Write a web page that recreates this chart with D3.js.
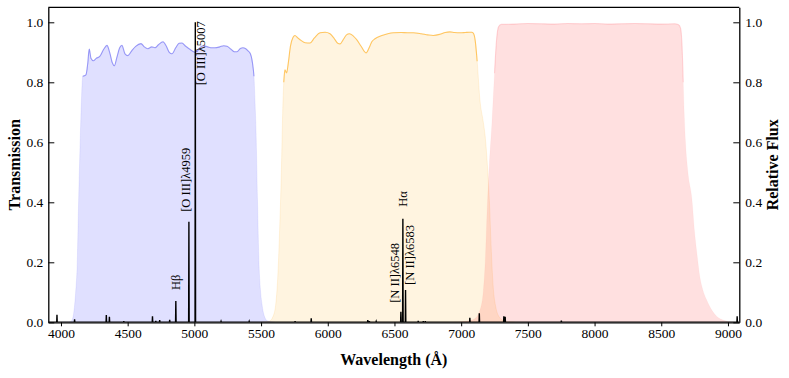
<!DOCTYPE html>
<html>
<head>
<meta charset="utf-8">
<script src="https://cdn.jsdelivr.net/npm/d3@7"></script>
<style>
  body { margin: 0; background: #fff; }
  text { font-family: "Liberation Serif", "DejaVu Serif", serif; }
</style>
</head>
<body>
<script>
  // filter transmission curves (wavelength in A, transmission)
  var blueWave = [4000, 4060, 4080, 4095, 4110, 4122, 4132, 4145, 4155, 4163, 4187, 4200, 4212, 4225, 4242, 4265, 4292, 4320, 4345, 4365, 4385, 4400, 4420, 4440, 4457, 4480, 4502, 4530, 4560, 4600, 4625, 4652, 4680, 4705, 4730, 4765, 4790, 4812, 4832, 4860, 4885, 4907, 4935, 4960, 4990, 5012, 5040, 5065, 5100, 5130, 5155, 5190, 5220, 5245, 5275, 5300, 5320, 5345, 5364, 5385, 5402, 5420, 5432, 5440, 5447, 5455, 5462, 5473, 5484, 5495, 5507, 5525, 5550, 5600];
  var blueTrans = [0, 0.001, 0.005, 0.03, 0.1, 0.2, 0.4, 0.62, 0.76, 0.82, 0.825, 0.86, 0.911, 0.88, 0.872, 0.88, 0.887, 0.91, 0.923, 0.9, 0.865, 0.855, 0.885, 0.915, 0.923, 0.895, 0.889, 0.905, 0.92, 0.929, 0.918, 0.912, 0.918, 0.915, 0.925, 0.935, 0.92, 0.9, 0.895, 0.915, 0.93, 0.931, 0.92, 0.912, 0.903, 0.9, 0.915, 0.922, 0.918, 0.915, 0.915, 0.918, 0.922, 0.92, 0.91, 0.902, 0.902, 0.913, 0.915, 0.912, 0.905, 0.895, 0.875, 0.85, 0.82, 0.73, 0.64, 0.41, 0.2, 0.11, 0.06, 0.02, 0.004, 0];

  var orangeWave = [5500, 5560, 5590, 5610, 5625, 5640, 5652, 5662, 5670, 5679, 5691, 5704, 5720, 5740, 5754, 5775, 5792, 5830, 5867, 5900, 5942, 5980, 6017, 6050, 6075, 6092, 6120, 6140, 6162, 6190, 6217, 6250, 6287, 6310, 6330, 6354, 6400, 6450, 6491, 6550, 6600, 6641, 6700, 6750, 6791, 6840, 6880, 6916, 6950, 6991, 7030, 7060, 7079, 7091, 7105, 7120, 7141, 7165, 7180, 7200, 7212, 7225, 7240, 7260, 7290, 7330, 7400];
  var orangeTrans = [0, 0.003, 0.02, 0.06, 0.15, 0.32, 0.5, 0.7, 0.8, 0.842, 0.831, 0.864, 0.92, 0.95, 0.956, 0.948, 0.942, 0.932, 0.931, 0.948, 0.965, 0.967, 0.962, 0.945, 0.93, 0.928, 0.945, 0.958, 0.962, 0.955, 0.942, 0.92, 0.898, 0.915, 0.935, 0.945, 0.955, 0.962, 0.965, 0.966, 0.965, 0.965, 0.962, 0.958, 0.956, 0.96, 0.966, 0.968, 0.966, 0.965, 0.966, 0.967, 0.967, 0.964, 0.94, 0.87, 0.74, 0.67, 0.62, 0.5, 0.4, 0.25, 0.12, 0.05, 0.015, 0.003, 0];

  var redWave = [6950, 7040, 7100, 7140, 7165, 7180, 7195, 7210, 7230, 7250, 7265, 7280, 7300, 7400, 7500, 7600, 7700, 7800, 7900, 8000, 8100, 8200, 8300, 8400, 8500, 8600, 8630, 8645, 8655, 8665, 8672, 8682, 8700, 8730, 8750, 8770, 8790, 8812, 8840, 8880, 8915, 8950, 9000, 9050];
  var redTrans = [0, 0.004, 0.012, 0.04, 0.1, 0.2, 0.38, 0.52, 0.66, 0.83, 0.94, 0.985, 0.993, 0.994, 0.996, 0.995, 0.994, 0.996, 0.995, 0.996, 0.994, 0.995, 0.996, 0.995, 0.994, 0.995, 0.992, 0.98, 0.93, 0.8, 0.7, 0.6, 0.5, 0.41, 0.3, 0.22, 0.15, 0.108, 0.075, 0.04, 0.02, 0.01, 0.003, 0];

  // emission lines (wavelength in A, relative flux)
  var lineWave = [3970, 4102, 4340, 4363, 4471, 4686, 4711, 4740, 4815, 4861, 4959, 5007, 5200, 5411, 5755, 5876, 6300, 6312, 6363, 6548, 6563, 6583, 6678, 6716, 6731, 7065, 7136, 7320, 7330, 7751, 9069];
  var lineFlux = [0.025, 0.01, 0.024, 0.018, 0.004, 0.02, 0.005, 0.007, 0.008, 0.071, 0.335, 1.0, 0.003, 0.003, 0.004, 0.013, 0.007, 0.004, 0.003, 0.035, 0.345, 0.108, 0.005, 0.004, 0.004, 0.015, 0.03, 0.02, 0.018, 0.006, 0.02];

  var labelText = ['H\u03b2', '[O III]\u03bb4959', '[O III]\u03bb5007', '[N II]\u03bb6548', 'H\u03b1', '[N II]\u03bb6583'];
  var labelWave = [4861, 4959, 5007, 6548, 6563, 6583];
  var labelFlux = [0.071, 0.335, 0.79, 0.035, 0.345, 0.108];

  var yTicks = [0, 0.2, 0.4, 0.6, 0.8, 1.0];
  var xTicks = [4000, 4500, 5000, 5500, 6000, 6500, 7000, 7500, 8000, 8500, 9000];

  // label placement (px offsets from line top)
  var labelDx = [0, -3, 6, -6, 0, 4];
  var labelGap = [11, 10, 0, 9, 12, 5];

  var W = 789, H = 378;
  var margin = { top: 7.3, right: 49.7, bottom: 55.7, left: 48.3 };
  var iw = W - margin.left - margin.right;
  var ih = H - margin.top - margin.bottom;

  var svg = d3.select('body').append('svg')
    .attr('width', W)
    .attr('height', H);

  var g = svg.append('g')
    .attr('transform', 'translate(' + margin.left + ',' + margin.top + ')');

  var xScale = d3.scaleLinear().domain([3905, 9085]).range([0, iw]);
  var yScale = d3.scaleLinear().domain([0, 1.05]).range([ih, 0]);

  svg.append('defs').append('clipPath').attr('id', 'clip')
    .append('rect').attr('width', iw).attr('height', ih);

  var filters = [
    { wave: blueWave, trans: blueTrans, fill: 'rgba(0,0,255,0.12)', stroke: 'rgba(80,80,240,0.5)' },
    { wave: orangeWave, trans: orangeTrans, fill: 'rgba(255,165,0,0.12)', stroke: 'rgba(255,170,20,0.6)' },
    { wave: redWave, trans: redTrans, fill: 'rgba(255,0,0,0.12)', stroke: 'rgba(255,120,130,0.25)' }
  ];

  var area = d3.area()
    .x(d => xScale(d[0]))
    .y0(yScale(0))
    .y1(d => yScale(d[1]))
    .curve(d3.curveMonotoneX);

  var line = d3.line()
    .x(d => xScale(d[0]))
    .y(d => yScale(d[1]))
    .curve(d3.curveMonotoneX);

  var plot = g.append('g').attr('clip-path', 'url(#clip)');

  filters.forEach(function(f) {
    var pts = f.wave.map((w, i) => [w, f.trans[i]]);
    plot.append('path')
      .attr('d', area(pts))
      .attr('fill', f.fill)
      .attr('stroke', f.stroke)
      .attr('stroke-opacity', 0.25)
      .attr('stroke-width', 0.8);
    var top = pts.filter(p => p[1] >= 0.8);
    plot.append('path')
      .attr('d', line(top))
      .attr('fill', 'none')
      .attr('stroke', f.stroke)
      .attr('stroke-width', 1.1);
  });

  // spectrum: narrow spikes on a zero continuum
  var spec = [[3905, 0]];
  lineWave.forEach(function(w, i) {
    spec.push([w - 2, 0], [w, lineFlux[i]], [w + 2, 0]);
  });
  spec.push([9085, 0]);
  plot.append('path')
    .attr('d', d3.line().x(d => xScale(d[0])).y(d => yScale(d[1]))(spec))
    .attr('fill', 'none')
    .attr('stroke', '#000')
    .attr('stroke-width', 1.4);

  // line labels
  labelText.forEach(function(t, i) {
    var x = xScale(labelWave[i]) + labelDx[i];
    var y = yScale(labelFlux[i]) - labelGap[i];
    g.append('text')
      .attr('transform', 'translate(' + x + ',' + y + ') rotate(-90)')
      .attr('dominant-baseline', 'central')
      .attr('font-size', '12.5px')
      .attr('fill', '#000')
      .text(t);
  });

  // axes
  var fmt = d3.format('.1f');
  var left = g.append('g')
    .call(d3.axisLeft(yScale).tickValues(yTicks).tickFormat(fmt).tickSizeInner(-6).tickSizeOuter(0).tickPadding(5));
  var right = g.append('g')
    .attr('transform', 'translate(' + iw + ',0)')
    .call(d3.axisRight(yScale).tickValues(yTicks).tickFormat(fmt).tickSizeInner(-6).tickSizeOuter(0).tickPadding(6));
  var bottom = g.append('g')
    .attr('transform', 'translate(0,' + ih + ')')
    .call(d3.axisBottom(xScale).tickValues(xTicks).tickFormat(d3.format('d')).tickSizeInner(4).tickSizeOuter(0).tickPadding(2));

  [left, right, bottom].forEach(function(a) {
    a.selectAll('text').attr('font-size', '13.5px').attr('fill', '#000')
      .style('font-family', '"Liberation Serif", serif');
    a.selectAll('line').attr('stroke', '#000').attr('stroke-width', 1);
    a.select('.domain').attr('stroke', '#000').attr('stroke-width', 1.3);
  });

  g.append('line')
    .attr('x1', 0).attr('x2', iw).attr('y1', 0).attr('y2', 0)
    .attr('stroke', '#000').attr('stroke-width', 1.3);

  // axis titles
  svg.append('text')
    .attr('transform', 'translate(14,' + (margin.top + ih / 2) + ') rotate(-90)')
    .attr('text-anchor', 'middle')
    .attr('dominant-baseline', 'central')
    .attr('font-size', '16px')
    .attr('font-weight', 'bold')
    .text('Transmission');

  svg.append('text')
    .attr('transform', 'translate(772,' + (margin.top + ih / 2) + ') rotate(-90)')
    .attr('text-anchor', 'middle')
    .attr('dominant-baseline', 'central')
    .attr('font-size', '16px')
    .attr('font-weight', 'bold')
    .text('Relative Flux');

  svg.append('text')
    .attr('x', margin.left + iw / 2)
    .attr('y', 365)
    .attr('text-anchor', 'middle')
    .attr('font-size', '16px')
    .attr('font-weight', 'bold')
    .text('Wavelength (\u00c5)');
</script>
</body>
</html>
